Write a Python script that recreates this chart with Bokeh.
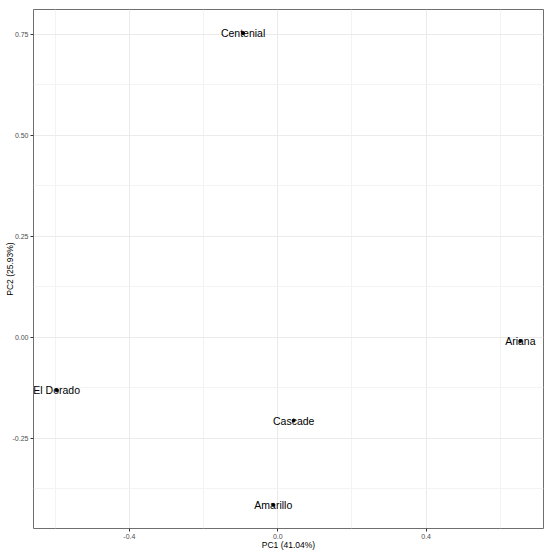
from bokeh.plotting import figure
from bokeh.models import ColumnDataSource, Range1d, FixedTicker, CustomJSTickFormatter
from bokeh.core.properties import value
from bokeh.embed import file_html
from bokeh.resources import INLINE

cultivars = ["Centenial", "El Dorado", "Cascade", "Amarillo", "Ariana"]
pc1 = [-0.0935, -0.596, 0.043, -0.012, 0.654]
pc2 = [0.753, -0.1316, -0.2066, -0.4156, -0.0099]

x_ticks = [-0.4, 0.0, 0.4]
x_tick_labels = ["-0.4", "0.0", "0.4"]
x_minor = [-0.6, -0.2, 0.2, 0.6]
y_ticks = [-0.25, 0.0, 0.25, 0.5, 0.75]
y_tick_labels = ["-0.25", "0.00", "0.25", "0.50", "0.75"]
y_minor = [-0.375, -0.125, 0.125, 0.375, 0.625]
x_title = "PC1 (41.04%)"
y_title = "PC2 (25.93%)"

FONT = "Liberation Sans"

def expand(vals, f=0.05):
    lo, hi = min(vals), max(vals)
    d = (hi - lo) * f
    return lo - d, hi + d

xr = expand(pc1)
yr = expand(pc2)

W, H = 550, 554
MB_L, MB_R, MB_T, MB_B = 33, 7, 9, 26

p = figure(width=W, height=H, output_backend="svg", toolbar_location=None,
           x_range=Range1d(*xr), y_range=Range1d(*yr),
           min_border_left=MB_L, min_border_right=MB_R,
           min_border_top=MB_T, min_border_bottom=MB_B)
p.background_fill_color = "white"
p.border_fill_color = "white"
p.outline_line_color = "#6F6F6F"
p.outline_line_width = 1

fmt_js = """
let k = 0, best = 1e9;
for (let i = 0; i < tvals.length; i++) {
  const d = Math.abs(tvals[i] - tick);
  if (d < best) { best = d; k = i; }
}
return tlabels[k];
"""
p.xaxis.ticker = FixedTicker(ticks=x_ticks, minor_ticks=x_minor)
p.yaxis.ticker = FixedTicker(ticks=y_ticks, minor_ticks=y_minor)
p.xaxis.formatter = CustomJSTickFormatter(args=dict(tvals=x_ticks, tlabels=x_tick_labels), code=fmt_js)
p.yaxis.formatter = CustomJSTickFormatter(args=dict(tvals=y_ticks, tlabels=y_tick_labels), code=fmt_js)
p.xaxis.axis_label = x_title
p.yaxis.axis_label = y_title

for ax in (p.xaxis, p.yaxis):
    ax.axis_line_color = None
    ax.major_tick_line_color = "#333333"
    ax.major_tick_out = 3
    ax.major_tick_in = 0
    ax.minor_tick_line_color = None
    ax.major_label_text_font = FONT
    ax.major_label_text_font_size = "7px"
    ax.major_label_text_color = "#4D4D4D"
    ax.major_label_standoff = 1
    ax.axis_label_text_font = FONT
    ax.axis_label_text_font_size = "8.5px"
    ax.axis_label_text_font_style = "normal"
    ax.axis_label_text_color = "black"
p.yaxis.axis_label_standoff = -5
p.xaxis.axis_label_standoff = -2

p.xgrid.grid_line_color = "#EBEBEB"
p.ygrid.grid_line_color = "#EBEBEB"
p.xgrid.grid_line_width = 1
p.ygrid.grid_line_width = 1
p.xgrid.minor_grid_line_color = "#F3F3F3"
p.ygrid.minor_grid_line_color = "#F3F3F3"

src = ColumnDataSource(dict(x=pc1, y=pc2, name=cultivars))
p.scatter("x", "y", source=src, size=3, color="black")
p.text("x", "y", text="name", source=src, text_align="center", text_baseline="middle",
       text_font=value(FONT), text_font_size=value("10.5px"), text_color="black")

open("out.html", "w").write(file_html(p, INLINE))
